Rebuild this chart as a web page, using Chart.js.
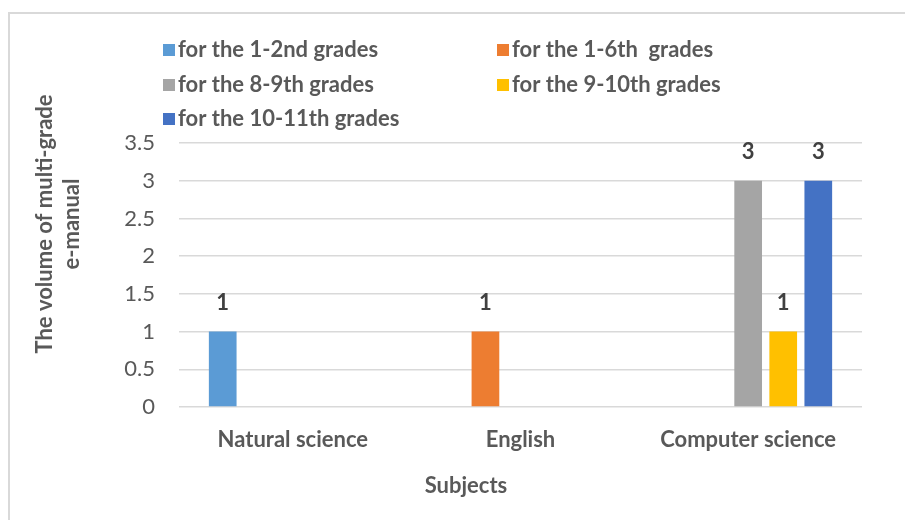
<!DOCTYPE html>
<html>
<head>
<meta charset="utf-8">
<script src="https://cdn.jsdelivr.net/npm/chart.js@4.4.0/dist/chart.umd.min.js"></script>
<style>
  html, body { margin: 0; padding: 0; background: #fff; }
  #wrap { position: relative; width: 905px; height: 520px; overflow: hidden; }
  #frame { position: absolute; left: 8px; top: 12px; width: 980px; height: 600px; border: 2px solid #d9d9d9; box-sizing: border-box; }
  #chart { position: absolute; left: 0; top: 0; }
</style>
</head>
<body>
<div id="wrap">
  <div id="frame"></div>
  <canvas id="chart" width="905" height="520"></canvas>
</div>
<script>
// Chart data
const categories = ['Natural science', 'English', 'Computer science'];
const seriesNames = [
  'for the 1-2nd grades',
  'for the 1-6th  grades',
  'for the 8-9th grades',
  'for the 9-10th grades',
  'for the 10-11th grades'
];
const grades12 = [1, null, null];
const grades16 = [null, 1, null];
const grades89 = [null, null, 3];
const grades910 = [null, null, 1];
const grades1011 = [null, null, 3];
const yTicks = [0, 0.5, 1, 1.5, 2, 2.5, 3, 3.5];

const xTitle = 'Subjects';
const yTitle = ['The volume of multi-grade', 'e-manual'];

const colors = ['#5B9BD5', '#ED7D31', '#A5A5A5', '#FFC000', '#4472C4'];
const seriesValues = [grades12, grades16, grades89, grades910, grades1011];

const FONT = 'Lato, "Open Sans", sans-serif';
const TEXT = '#595959';

// Legend, value labels and axis titles drawn on the canvas
const extras = {
  id: 'extras',
  afterDatasetsDraw(chart) {
    const ctx = chart.ctx;
    ctx.save();

    // value labels above bars
    ctx.font = 'bold 22px ' + FONT;
    ctx.fillStyle = '#404040';
    ctx.textAlign = 'center';
    ctx.textBaseline = 'middle';
    chart.data.datasets.forEach((ds, i) => {
      chart.getDatasetMeta(i).data.forEach((bar, j) => {
        if (ds.data[j] == null) return;
        ctx.fillText(String(ds.data[j]), bar.x, bar.y - 29);
      });
    });

    // legend in two columns
    const colX = [163, 497];
    const rowY = [50, 85, 119];
    ctx.textAlign = 'left';
    chart.data.datasets.forEach((ds, i) => {
      const x = colX[i % 2];
      const y = rowY[Math.floor(i / 2)];
      ctx.fillStyle = ds.backgroundColor;
      ctx.fillRect(x, y - 6, 12, 12);
      ctx.fillStyle = TEXT;
      ctx.fillText(ds.label, x + 15, y);
    });

    // axis titles
    ctx.fillStyle = TEXT;
    ctx.textAlign = 'center';
    ctx.fillText(xTitle, 466, 486);
    ctx.translate(58, 224);
    ctx.rotate(-Math.PI / 2);
    ctx.fillText(yTitle[0], 0, -13);
    ctx.fillText(yTitle[1], 0, 14);

    ctx.restore();
  }
};

const ctx = document.getElementById('chart').getContext('2d');
const chart = new Chart(ctx, {
  type: 'bar',
  data: {
    labels: categories,
    datasets: seriesNames.map((name, i) => ({
      label: name,
      data: seriesValues[i],
      backgroundColor: colors[i],
      borderWidth: 0,
      categoryPercentage: 0.77,
      barPercentage: 0.79
    }))
  },
  options: {
    responsive: false,
    animation: false,
    layout: { padding: { top: 143, right: 43, left: 0, bottom: 0 } },
    scales: {
      x: {
        grid: { display: false, drawTicks: false },
        border: { display: false },
        ticks: {
          color: TEXT,
          font: { family: FONT, size: 22, weight: 'bold' },
          padding: 20,
          maxRotation: 0
        },
        afterFit: s => { s.height = 113; }
      },
      y: {
        min: 0,
        max: 3.5,
        afterBuildTicks: s => { s.ticks = yTicks.map(v => ({ value: v })); },
        grid: { color: '#d9d9d9', lineWidth: 1.5, drawTicks: false },
        border: { display: false },
        ticks: {
          color: TEXT,
          font: { family: FONT, size: 22 },
          padding: 24,
          callback: v => String(v)
        },
        afterFit: s => { s.width = 179; }
      }
    },
    plugins: {
      legend: { display: false },
      tooltip: { enabled: true }
    }
  },
  plugins: [extras]
});
</script>
</body>
</html>
